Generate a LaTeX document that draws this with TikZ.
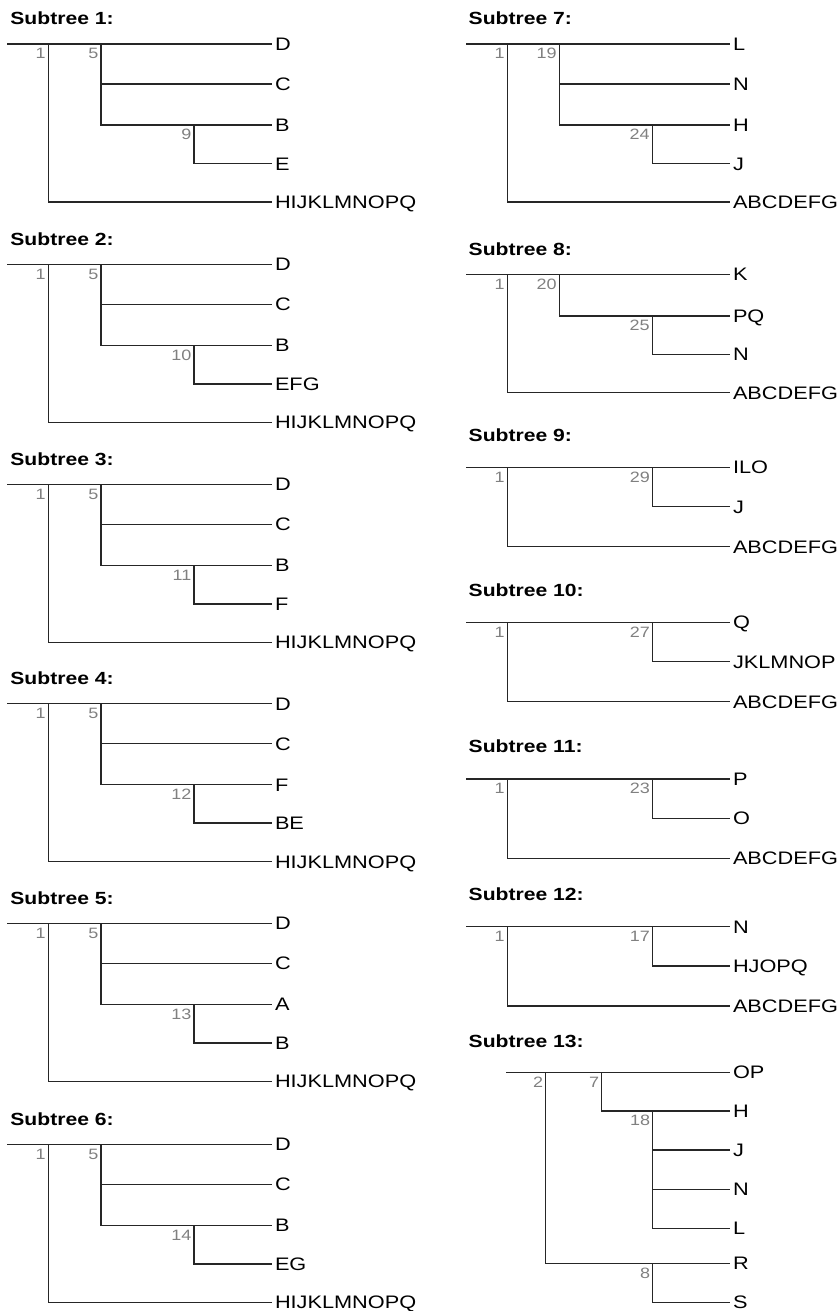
\documentclass[tikz,border=0pt]{standalone}
\usepackage{fontspec}
\setmainfont{Liberation Sans}[FakeStretch=1.2]
\begin{document}
\begin{tikzpicture}[x=0.5pt, y=-0.5pt,
    branch/.style={draw=black!85, line width=0.75pt},
    leaf/.style={anchor=west, inner xsep=1.3pt, inner ysep=0pt, text height=6.5pt, text depth=0pt, font=\fontsize{9.05}{11}\selectfont},
    title/.style={anchor=base west, inner sep=0pt, font=\fontsize{8.8}{11}\selectfont\bfseries},
    num/.style={anchor=north east, inner xsep=1.1pt, inner ysep=1.8pt, text height=5.4pt, text depth=0pt, text=black!50, font=\fontsize{7.5}{9}\selectfont}]
    \useasboundingbox (0,0) rectangle (839,1311);

    % Left column: subtrees 1 to 6
    \foreach \k/\y/\ni/\la/\lb in {1/44/9/B/E, 2/264.3/10/B/EFG, 3/484.3/11/B/F, 4/703.7/12/F/BE, 5/923.3/13/A/B, 6/1144.3/14/B/EG} {
        \node[title] (t\k) at (10,\y-19) {Subtree \k:};
        \coordinate (r\k) at (7.3,\y);
        \coordinate (a\k) at (48.3,\y);
        \coordinate (b\k) at (101,\y);
        \coordinate (c\k) at (194,\y+81);
        \node[leaf] (d\k) at (272,\y) {D};
        \node[leaf] (e\k) at (272,\y+40) {C};
        \node[leaf] (f\k) at (272,\y+81) {\la};
        \node[leaf] (g\k) at (272,\y+119.5) {\lb};
        \node[leaf] (h\k) at (272,\y+158) {HIJKLMNOPQ};
        \draw[branch] (r\k) -- (d\k.west);
        \draw[branch] (a\k) |- (h\k.west);
        \draw[branch] (b\k) |- (e\k.west);
        \draw[branch] (b\k) |- (f\k.west);
        \draw[branch] (c\k) |- (g\k.west);
        \node[num] (na\k) at (a\k) {1};
        \node[num] (nb\k) at (b\k) {5};
        \node[num] (nc\k) at (c\k) {\ni};
    }

    % Subtree 7
    \node[title] (t7) at (468.3,25) {Subtree 7:};
    \coordinate (r7) at (466,44);
    \coordinate (a7) at (507.3,44);
    \coordinate (b7) at (559.3,44);
    \coordinate (c7) at (652.3,125);
    \node[leaf] (d7) at (730,44) {L};
    \node[leaf] (e7) at (730,84) {N};
    \node[leaf] (f7) at (730,125) {H};
    \node[leaf] (g7) at (730,163.5) {J};
    \node[leaf] (h7) at (730,202) {ABCDEFG};
    \draw[branch] (r7) -- (d7.west);
    \draw[branch] (a7) |- (h7.west);
    \draw[branch] (b7) |- (e7.west);
    \draw[branch] (b7) |- (f7.west);
    \draw[branch] (c7) |- (g7.west);
    \node[num] (na7) at (a7) {1};
    \node[num] (nb7) at (b7) {19};
    \node[num] (nc7) at (c7) {24};

    % Subtree 8
    \node[title] (t8) at (468.3,255) {Subtree 8:};
    \coordinate (r8) at (466,274.3);
    \coordinate (a8) at (507.3,274.3);
    \coordinate (b8) at (559.3,274.3);
    \coordinate (c8) at (652.3,316);
    \node[leaf] (d8) at (730,274.3) {K};
    \node[leaf] (e8) at (730,316) {PQ};
    \node[leaf] (f8) at (730,354.3) {N};
    \node[leaf] (g8) at (730,392.7) {ABCDEFG};
    \draw[branch] (r8) -- (d8.west);
    \draw[branch] (a8) |- (g8.west);
    \draw[branch] (b8) |- (e8.west);
    \draw[branch] (c8) |- (f8.west);
    \node[num] (na8) at (a8) {1};
    \node[num] (nb8) at (b8) {20};
    \node[num] (nc8) at (c8) {25};

    % Subtrees 9 to 12
    \foreach \k/\y/\ni/\la/\lb in {9/467.3/29/ILO/J, 10/622.3/27/Q/JKLMNOP, 11/779/23/P/O, 12/926.7/17/N/HJOPQ} {
        \node[title] (t\k) at (468.3,\y-26.3) {Subtree \k:};
        \coordinate (r\k) at (466,\y);
        \coordinate (a\k) at (507.3,\y);
        \coordinate (c\k) at (652.5,\y);
        \node[leaf] (d\k) at (730,\y) {\la};
        \node[leaf] (e\k) at (730,\y+39.3) {\lb};
        \node[leaf] (f\k) at (730,\y+79.3) {ABCDEFG};
        \draw[branch] (r\k) -- (d\k.west);
        \draw[branch] (a\k) |- (f\k.west);
        \draw[branch] (c\k) |- (e\k.west);
        \node[num] (na\k) at (a\k) {1};
        \node[num] (nc\k) at (c\k) {\ni};
    }

    % Subtree 13
    \node[title] (t13) at (468.3,1047.3) {Subtree 13:};
    \coordinate (r13) at (506,1072.3);
    \coordinate (a13) at (545.7,1072.3);
    \coordinate (b13) at (601.7,1072.3);
    \coordinate (c13) at (652.7,1111);
    \coordinate (e13) at (652.7,1263.3);
    \node[leaf] (op13) at (730,1072.3) {OP};
    \node[leaf] (h13) at (730,1111) {H};
    \node[leaf] (j13) at (730,1150) {J};
    \node[leaf] (n13) at (730,1189.3) {N};
    \node[leaf] (l13) at (730,1228.3) {L};
    \node[leaf] (rr13) at (730,1263.3) {R};
    \node[leaf] (s13) at (730,1302.3) {S};
    \draw[branch] (r13) -- (op13.west);
    \draw[branch] (a13) |- (rr13.west);
    \draw[branch] (b13) |- (h13.west);
    \draw[branch] (c13) |- (j13.west);
    \draw[branch] (c13) |- (n13.west);
    \draw[branch] (c13) |- (l13.west);
    \draw[branch] (e13) |- (s13.west);
    \node[num] (na13) at (a13) {2};
    \node[num] (nb13) at (b13) {7};
    \node[num] (nc13) at (c13) {18};
    \node[num] (ne13) at (e13) {8};
\end{tikzpicture}
\end{document}
